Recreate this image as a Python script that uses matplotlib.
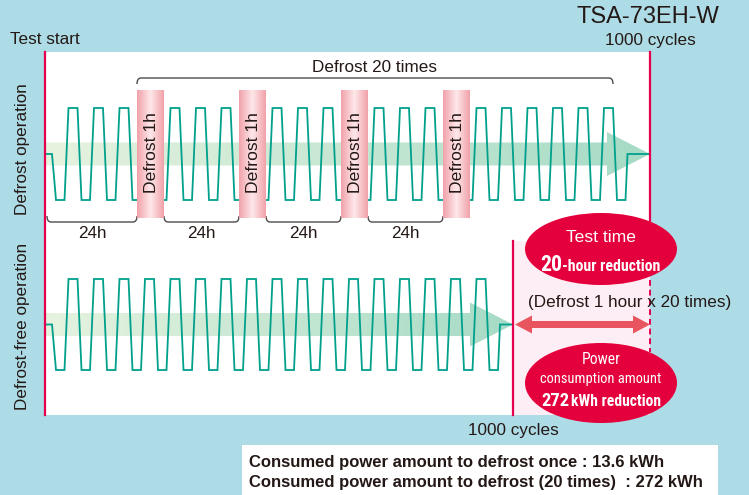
import numpy as np
import matplotlib
matplotlib.use("Agg")
import matplotlib.pyplot as plt
from matplotlib import font_manager as fm
from matplotlib.patches import Polygon, Ellipse, Rectangle, PathPatch
from matplotlib.path import Path
from matplotlib.colors import LinearSegmentedColormap

plt.rcParams['font.family'] = ['Liberation Sans', 'DejaVu Sans']

# ---- chart values ----
model_name = 'TSA-73EH-W'
cycles_label = '1000 cycles'
cycles_with_defrost = 22          # cycles drawn on the defrost line
cycles_defrost_free = 17          # cycles drawn on the defrost-free line
defrost_at_cycle = [4, 8, 12, 16]
interval_labels = ['24h', '24h', '24h', '24h']
defrost_times = 20
defrost_hours = 1
kwh_per_defrost = 13.6

saved_hours = defrost_times * defrost_hours
saved_kwh = kwh_per_defrost * defrost_times

# ---- layout (pixels) ----
W, H = 749, 495
X0, LEAD, PERIOD = 45, 7, 25.5
SEG = [4, 8.5, 4, 9]              # fall, low, rise, high
PANEL_TOP, PANEL_BOT, PANEL_R, CUT_X, CUT_Y = 52, 415, 650, 513, 241
TOP_HI, TOP_LO = 108, 200
BOT_HI, BOT_LO = 279, 370
BAND_W, BAND_T, BAND_B = 27, 90, 218

BLUE = '#ADDCE6'
RED = '#E4004F'
ELL = '#E4003C'
TEAL = '#00A08C'
INK = '#231815'
FS = 12.3

# pick the narrowest installed sans for the text inside the red ellipses
names = {f.name for f in fm.fontManager.ttflist}
narrow = {'family': ['Liberation Sans', 'DejaVu Sans']}
for cand in ['Liberation Sans Narrow', 'Roboto Condensed', 'Open Sans Condensed', 'DejaVu Sans Condensed']:
    if cand in names:
        narrow = {'family': [cand, 'DejaVu Sans']}
        break

fig = plt.figure(figsize=(W / 100, H / 100), dpi=100)
fig.patch.set_facecolor(BLUE)
ax = fig.add_axes([0, 0, 1, 1])
ax.set_axis_off()
ax.set_xlim(0, W)
ax.set_ylim(H, 0)
ax.set_autoscale_on(False)
renderer = fig.canvas.get_renderer()


def fit_text(x, y, s, width, size, **kw):
    t = ax.text(x, y, s, fontsize=size, color='white', zorder=7, **narrow, **kw)
    w = t.get_window_extent(renderer).width
    if w > width:
        t.set_fontsize(size * width / w)
    return t


def wave(n, hi, lo, x_end):
    mid = (hi + lo) / 2
    xs, ys = [X0, X0 + LEAD], [mid, mid]
    for k in range(n + 1):
        x = X0 + LEAD + k * PERIOD
        xs += [x + SEG[0], x + SEG[0] + SEG[1]]
        ys += [lo, lo]
        if k < n:
            xs += [x + sum(SEG[:3]), x + sum(SEG)]
            ys += [hi, hi]
    xs += [xs[-1] + SEG[2] / 2, x_end]
    ys += [mid, mid]
    return xs, ys


def gradient_patch(verts, colors, z):
    poly = Polygon(verts, closed=True, fc='none', ec='none')
    ax.add_patch(poly)
    vx = [v[0] for v in verts]
    vy = [v[1] for v in verts]
    cmap = LinearSegmentedColormap.from_list('g', colors)
    im = ax.imshow(np.linspace(0, 1, 256).reshape(1, -1), cmap=cmap, aspect='auto',
                   extent=[min(vx), max(vx), max(vy), min(vy)], zorder=z)
    im.set_clip_path(poly)


def arrow_verts(x_tip, y_mid):
    shaft, head, head_len = 11.5, 22, 43
    xb = x_tip - head_len
    return [(X0, y_mid - shaft), (xb, y_mid - shaft), (xb, y_mid - head), (x_tip, y_mid),
            (xb, y_mid + head), (xb, y_mid + shaft), (X0, y_mid + shaft)]


def bracket(x1, x2, y, h, color='#4d4b4b'):
    r = 4
    verts = [(x1, y + h), (x1, y), (x1 + r, y), (x2 - r, y), (x2, y), (x2, y + h)]
    codes = [Path.MOVETO, Path.CURVE3, Path.CURVE3, Path.LINETO, Path.CURVE3, Path.CURVE3]
    ax.add_patch(PathPatch(Path(verts, codes), fc='none', ec=color, lw=1.0, zorder=3))


# panels
ax.add_patch(Polygon([(X0, PANEL_TOP), (PANEL_R, PANEL_TOP), (PANEL_R, CUT_Y), (CUT_X, CUT_Y),
                      (CUT_X, PANEL_BOT), (X0, PANEL_BOT)], closed=True, fc='white', ec='none', zorder=1))
ax.add_patch(Rectangle((CUT_X, CUT_Y), PANEL_R - CUT_X, PANEL_BOT - CUT_Y, fc='#FCEEF4', ec='none', zorder=1))

# green arrows
top_mid = (TOP_HI + TOP_LO) / 2
bot_mid = (BOT_HI + BOT_LO) / 2
gradient_patch(arrow_verts(PANEL_R, top_mid), ['#E6F3DF', '#A6DBC6'], 2)
gradient_patch(arrow_verts(CUT_X, bot_mid), ['#E6F3DF', '#A6DBC6'], 2)

# waves
xs, ys = wave(cycles_with_defrost, TOP_HI, TOP_LO, PANEL_R)
ax.plot(xs, ys, color=TEAL, lw=1.3, zorder=3, solid_joinstyle='miter')
xs, ys = wave(cycles_defrost_free, BOT_HI, BOT_LO, CUT_X)
ax.plot(xs, ys, color=TEAL, lw=1.3, zorder=3, solid_joinstyle='miter')

# defrost bands
band_x = [X0 + LEAD + (c - 2 / 3) * PERIOD for c in defrost_at_cycle]
for bx in band_x:
    gradient_patch([(bx, BAND_T), (bx + BAND_W, BAND_T), (bx + BAND_W, BAND_B), (bx, BAND_B)],
                   ['#F1A1A9', '#FDE8EA', '#F1A1A9'], 4)
    ax.text(bx + BAND_W / 2 + 1, 152.5, 'Defrost %gh' % defrost_hours, rotation=90,
            ha='center', va='center', fontsize=12.6, color=INK, zorder=5)

# brackets under the intervals
starts = [X0 + 2] + [bx + BAND_W for bx in band_x[:-1]]
for s, e, lab in zip(starts, band_x, interval_labels):
    bracket(s, e, 222, -6)
    ax.text((s + e) / 2, 233, lab, ha='center', va='center', fontsize=FS, color=INK)

# bracket over all defrosts
last_high_end = X0 + LEAD + (cycles_with_defrost - 1) * PERIOD + sum(SEG)
bracket(band_x[0], last_high_end, 78, 6)
ax.text((band_x[0] + last_high_end) / 2, 68, 'Defrost %d times' % defrost_times,
        ha='center', va='center', fontsize=FS, color=INK)

# red boundary lines
ax.plot([X0, X0], [PANEL_TOP, PANEL_BOT], color=RED, lw=1.6, zorder=4)
ax.plot([PANEL_R, PANEL_R], [PANEL_TOP, CUT_Y], color=RED, lw=1.6, zorder=4)
ax.plot([CUT_X, CUT_X], [CUT_Y, PANEL_BOT], color=RED, lw=1.6, zorder=4)
ax.plot([PANEL_R, PANEL_R], [280, 352], color=RED, lw=1.4, ls=(0, (3, 2)), zorder=4)

# double arrow for the saved time
ay, sh, hh, hl = bot_mid, 3.5, 9, 17
a1, a2 = CUT_X + 2, PANEL_R
ax.add_patch(Polygon([(a1, ay), (a1 + hl, ay - hh), (a1 + hl, ay - sh), (a2 - hl, ay - sh),
                      (a2 - hl, ay - hh), (a2, ay), (a2 - hl, ay + hh), (a2 - hl, ay + sh),
                      (a1 + hl, ay + sh), (a1 + hl, ay + hh)], closed=True,
                     fc='#E9555E', ec='none', zorder=5))
ax.text(630, 303, '(Defrost %g hour x %d times)' % (defrost_hours, defrost_times),
        ha='center', va='center', fontsize=FS, color=INK, zorder=6)

# red ellipses
cx = 601
ax.add_patch(Ellipse((cx, 249), 152, 72, fc=ELL, ec='none', zorder=6))
ax.add_patch(Ellipse((cx, 383), 152, 80, fc=ELL, ec='none', zorder=6))
ax.text(cx, 237, 'Test time', ha='center', va='center', fontsize=12.6, color='white', zorder=7)
fit_text(562, 271, '%d' % saved_hours, 22, 18, ha='right', va='baseline', fontweight='bold')
fit_text(562, 271, '-hour reduction', 98, 13, ha='left', va='baseline', fontweight='bold')
fit_text(cx, 360, 'Power', 39, 12.5, ha='center', va='center')
fit_text(cx, 379, 'consumption amount', 122, 12.5, ha='center', va='center')
fit_text(569, 406, '%g' % saved_kwh, 28, 15.5, ha='right', va='baseline', fontweight='bold')
fit_text(571, 406, 'kWh reduction', 90, 12.8, ha='left', va='baseline', fontweight='bold')

# side and top labels
ax.text(10, 39, 'Test start', ha='left', va='center', fontsize=FS, color=INK)
ax.text(647.5, 17, model_name, ha='center', va='center', fontsize=17, color=INK)
ax.text(PANEL_R, 40, cycles_label, ha='center', va='center', fontsize=FS, color=INK)
ax.text(CUT_X, 430, cycles_label, ha='center', va='center', fontsize=FS, color=INK)
ax.text(23, 149, 'Defrost operation', rotation=90, ha='center', va='center', fontsize=FS, color=INK)
ax.text(23, 326, 'Defrost-free operation', rotation=90, ha='center', va='center', fontsize=FS, color=INK)

# note box
ax.add_patch(Rectangle((242, 445), 476, 60, fc='white', ec='none', zorder=1))
ax.text(249, 462, 'Consumed power amount to defrost once : %g kWh' % kwh_per_defrost,
        ha='left', va='center', fontsize=12, fontweight='bold', color=INK, zorder=2)
ax.text(249, 483, 'Consumed power amount to defrost (%d times)  : %g kWh' % (defrost_times, saved_kwh),
        ha='left', va='center', fontsize=12, fontweight='bold', color=INK, zorder=2)

fig.savefig('out.png', dpi=100, facecolor=BLUE)
